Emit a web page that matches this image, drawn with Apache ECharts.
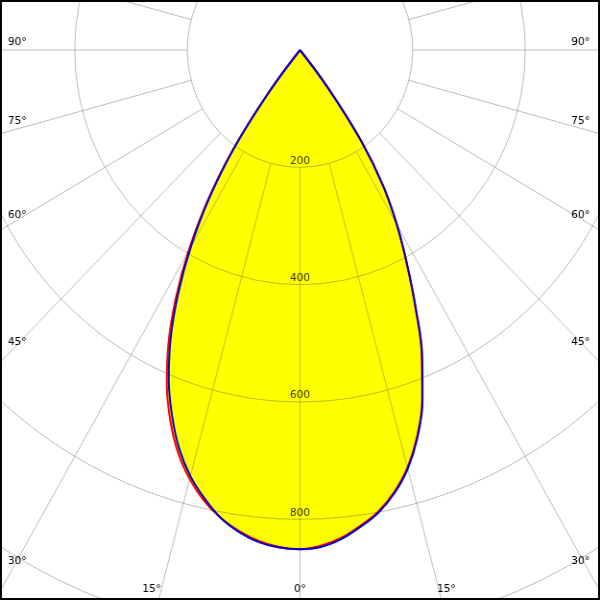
<!DOCTYPE html>
<html><head><meta charset="utf-8">
<script src="https://cdn.jsdelivr.net/npm/echarts@6/dist/echarts.min.js"></script>
<style>
html,body{margin:0;padding:0;background:#fff;}
#wrap{width:600px;height:600px;overflow:hidden;position:relative;}
#chart{width:625px;height:600px;transform:scaleX(0.96);transform-origin:0 0;}
</style></head><body><div id="wrap"><div id="chart"></div></div>
<script>
// gamma angles (deg from nadir)
const gammaDeg = [0,2.5,5,7.5,10,12.5,15,17.5,20,22.5,25,27.5,30,32.5,35,37.5,40];
// C0-C180 plane (red): right half C0, left half C180
const redC0   = [851,846,835,818,799,772,737,691,634,565,485,410,343,274,188,83,0];
const redC180 = [851,848,840,827,810,787,757,720,673,618,553,478,396,308,210,95,0];
// C90-C270 plane (blue): right half C90, left half C270
const blueC90  = [851,848,837,820,801,774,739,693,636,567,487,412,345,276,190,85,0];
const blueC270 = [851,849,842,829,810,783,752,713,664,609,544,469,388,301,204,91,0];
// radial ticks
const ringTicks = [200,400,600,800];
const ringStep = 200;
const radiusMax = 1200;
// angle labels
const angleLabels = ['0°','15°','30°','45°','60°','75°','90°'];

const SX = 0.96;               // horizontal compression of the diagram
const W = 600 / SX;
const CX = 300 / SX, CY = 50;
const R200 = 117.33;           // px for one ring step
const RPX = R200 * radiusMax / ringStep;

function curve(left, right){
  const pts = [];
  for (let i = gammaDeg.length - 1; i >= 0; i--) pts.push([left[i], -gammaDeg[i]]);
  for (let i = 1; i < gammaDeg.length; i++) pts.push([right[i], gammaDeg[i]]);
  return pts;
}

const chart = echarts.init(document.getElementById('chart'), null, {renderer:'canvas'});
const gridColor = 'rgba(90,90,90,0.40)';
const font = {fontFamily:'DejaVu Sans', fontSize:11, fill:'#000'};

// label positions (screen px)
const sideY = {'90°':42,'75°':121,'60°':215,'45°':342,'30°':561};
const graphics = [];
angleLabels.forEach(t=>{
  if (sideY[t] !== undefined){
    graphics.push({type:'text', z:100, x:8/SX, y:sideY[t], style:Object.assign({text:t, align:'left', verticalAlign:'middle'}, font)});
    graphics.push({type:'text', z:100, x:590/SX, y:sideY[t], style:Object.assign({text:t, align:'right', verticalAlign:'middle'}, font)});
  }
});
graphics.push({type:'text', z:100, x:161/SX, y:589, style:Object.assign({text:'15°', align:'right', verticalAlign:'middle'}, font)});
graphics.push({type:'text', z:100, x:437/SX, y:589, style:Object.assign({text:'15°', align:'left', verticalAlign:'middle'}, font)});
graphics.push({type:'text', z:100, x:300/SX, y:589, style:Object.assign({text:'0°', align:'center', verticalAlign:'middle'}, font)});
graphics.push({type:'rect', z:100, shape:{x:1, y:1, width:W-2, height:598}, style:{fill:'none', stroke:'#000', lineWidth:2}});

chart.setOption({
  animation:false,
  backgroundColor:'#fff',
  polar:[
    {center:[CX, CY], radius:[0, RPX]},
    {center:[CX, CY], radius:[R200, RPX]}
  ],
  angleAxis:[
    {polarIndex:0, type:'value', min:-180, max:180, startAngle:90, clockwise:false,
     axisLine:{show:false}, axisTick:{show:false}, axisLabel:{show:false}, splitLine:{show:false}},
    {polarIndex:1, type:'value', min:-180, max:180, interval:15, startAngle:90, clockwise:false, z:2,
     axisLine:{show:false}, axisTick:{show:false}, axisLabel:{show:false},
     splitLine:{show:true, lineStyle:{color:gridColor, width:1}}}
  ],
  radiusAxis:[
    {polarIndex:0, type:'value', min:0, max:radiusMax, interval:ringStep, z:2,
     axisLine:{show:false}, axisTick:{show:false}, axisLabel:{show:false},
     splitLine:{show:true, lineStyle:{color:gridColor, width:1}}},
    {polarIndex:1, type:'value', min:ringStep, max:radiusMax, interval:ringStep,
     axisLine:{show:false}, axisTick:{show:false}, axisLabel:{show:false}, splitLine:{show:false}}
  ],
  graphic: graphics,
  series:[
    {type:'line', coordinateSystem:'polar', polarIndex:0, z:1, data:curve(redC180, redC0),
     smooth:0.4, symbol:'none', clip:false, lineStyle:{width:0, opacity:0},
     areaStyle:{color:'#ffff00', opacity:1}},
    {type:'line', coordinateSystem:'polar', polarIndex:0, z:3, data:curve(redC180, redC0),
     smooth:0.4, symbol:'none', clip:false, lineStyle:{color:'#ff0000', width:2}},
    {type:'line', coordinateSystem:'polar', polarIndex:0, z:4, data:curve(blueC270, blueC90),
     smooth:0.4, symbol:'none', clip:false, lineStyle:{color:'#0000c8', width:2}},
    {type:'scatter', coordinateSystem:'polar', polarIndex:0, z:5, symbol:'circle', symbolSize:2,
     itemStyle:{color:'rgba(0,0,0,0)'},
     data: ringTicks.map(v=>[v,0]),
     label:{show:true, position:'top', distance:0, color:'#000', fontFamily:'DejaVu Sans', fontSize:11,
            formatter:p=>String(p.value[0])}}
  ]
});
</script></body></html>
